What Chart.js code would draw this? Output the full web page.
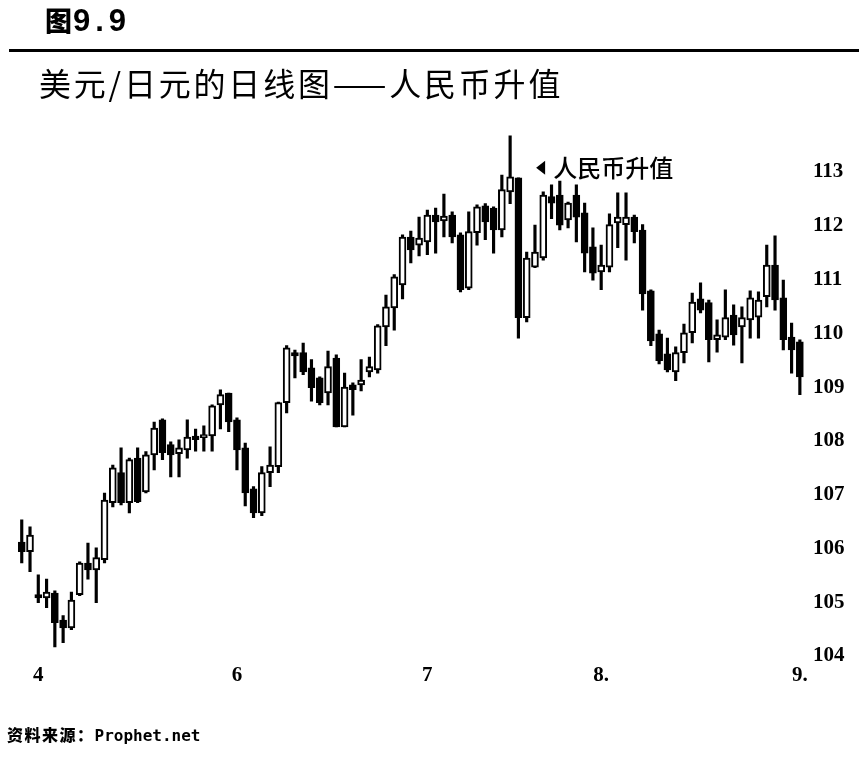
<!DOCTYPE html>
<html>
<head>
<meta charset="utf-8">
<script src="https://cdn.jsdelivr.net/npm/chart.js@4.4.1/dist/chart.umd.min.js"></script>
<style>
  html, body { margin: 0; padding: 0; background: #fff; }
  #page { position: relative; width: 859px; height: 764px; overflow: hidden; }
  #chart { position: absolute; left: 0; top: 0; }
  .fig { position: absolute; left: 45px; top: 0px; color: #000; white-space: nowrap; }
  .fig .zh { font: 900 27px "Noto Sans CJK SC"; }
  .fig .num { font: bold 31px "Liberation Sans"; letter-spacing: 5px; margin-left: 1px; }
  .rule { position: absolute; left: 9px; right: 0; top: 49px; height: 3px; background: #000; }
  .title { position: absolute; left: 39px; top: 59px; font: 32px "Noto Sans CJK SC"; letter-spacing: 2.8px; color: #000; white-space: nowrap; }
  .src { position: absolute; left: 7px; top: 722px; color: #000; white-space: nowrap; }
  .src .zh { font: 900 16px "Noto Sans CJK SC"; letter-spacing: 1.5px; }
  .src .en { font: bold 16px "DejaVu Sans Mono"; }
</style>
</head>
<body>
<div id="page">
  <canvas id="chart" width="859" height="764"></canvas>
  <div class="fig"><span class="zh">图</span><span class="num">9.9</span></div>
  <div class="rule"></div>
  <div class="title">美元/日元的日线图——人民币升值</div>
  <div class="src"><span class="zh">资料来源：</span><span class="en">Prophet.net</span></div>
</div>
<script>
// daily USD/JPY
const opens = [
  106.12, 105.94, 105.14, 105.08, 105.17, 104.67, 104.52, 105.14, 105.73, 105.60,
  105.79, 106.85, 107.41, 106.85, 107.68, 107.05, 107.74, 108.39, 107.93, 107.76,
  107.83, 108.09, 108.06, 108.09, 108.67, 108.89, 108.39, 107.87, 107.11, 106.66,
  107.41, 107.52, 108.71, 109.64, 109.64, 109.36, 109.17, 108.89, 109.54, 108.26,
  109.04, 109.04, 109.28, 109.32, 110.12, 110.47, 110.90, 111.79, 111.64, 111.70,
  112.20, 112.09, 112.20, 111.83, 110.84, 111.87, 112.37, 112.33, 111.92, 112.63,
  112.89, 110.29, 111.23, 111.40, 112.54, 112.57, 112.11, 112.57, 112.24, 111.61,
  111.14, 111.23, 112.05, 112.02, 112.16, 111.92, 110.79, 109.99, 109.62, 109.28,
  109.64, 110.01, 110.64, 110.57, 109.88, 109.93, 110.34, 110.12, 110.25, 110.30,
  110.68, 111.27, 110.66, 109.93, 109.84
];
const highs = [
  106.53, 106.40, 105.51, 105.43, 105.21, 104.75, 105.19, 105.75, 106.10, 106.01,
  107.03, 107.55, 107.87, 107.68, 107.87, 107.80, 108.35, 108.41, 107.98, 108.02,
  108.39, 108.22, 108.28, 108.67, 108.95, 108.89, 108.43, 107.96, 107.15, 107.52,
  107.89, 108.72, 109.77, 109.69, 109.82, 109.51, 109.19, 109.67, 109.60, 109.26,
  109.08, 109.51, 109.56, 110.16, 110.71, 111.09, 111.83, 111.90, 112.16, 112.29,
  112.33, 112.59, 112.26, 111.87, 112.26, 112.39, 112.41, 112.35, 112.94, 113.67,
  112.89, 111.51, 112.01, 112.63, 112.76, 112.83, 112.44, 112.76, 112.42, 111.96,
  111.64, 112.22, 112.61, 112.61, 112.20, 112.02, 110.81, 110.06, 109.91, 109.75,
  110.17, 110.75, 110.94, 110.62, 110.25, 110.81, 110.53, 110.49, 110.79, 110.77,
  111.64, 111.81, 110.99, 110.19, 109.88
];
const lows = [
  105.73, 105.57, 104.99, 104.90, 104.17, 104.25, 104.49, 105.12, 105.43, 104.99,
  105.73, 106.77, 106.81, 106.66, 106.85, 107.03, 107.46, 107.65, 107.33, 107.33,
  107.68, 107.81, 107.81, 107.81, 108.22, 108.17, 107.46, 106.79, 106.57, 106.61,
  107.15, 107.41, 108.52, 109.17, 109.23, 108.74, 108.67, 108.67, 108.26, 108.26,
  108.48, 108.93, 109.19, 109.26, 109.77, 110.06, 110.64, 111.31, 111.44, 111.46,
  111.49, 111.79, 111.68, 110.77, 110.81, 111.64, 111.74, 111.49, 111.79, 112.41,
  109.91, 110.21, 111.22, 111.36, 112.13, 111.92, 111.96, 111.70, 111.14, 110.99,
  110.81, 111.14, 111.59, 111.36, 111.68, 110.43, 109.77, 109.43, 109.28, 109.12,
  109.45, 109.82, 110.38, 109.47, 109.65, 109.88, 109.78, 109.45, 109.91, 109.91,
  110.49, 110.43, 109.69, 109.26, 108.86
];
const closes = [
  105.94, 106.25, 105.08, 105.19, 104.62, 104.52, 105.04, 105.73, 105.60, 105.83,
  106.90, 107.50, 106.85, 107.65, 106.87, 107.74, 108.24, 107.78, 107.74, 107.87,
  108.07, 108.02, 108.11, 108.65, 108.86, 108.35, 107.83, 107.03, 106.66, 107.41,
  107.55, 108.71, 109.73, 109.58, 109.28, 108.99, 108.71, 109.38, 108.26, 109.00,
  108.95, 109.13, 109.38, 110.14, 110.49, 111.05, 111.79, 111.55, 111.77, 112.20,
  112.07, 112.18, 111.79, 110.81, 111.89, 112.35, 112.07, 111.92, 112.67, 112.91,
  110.29, 111.40, 111.51, 112.57, 112.42, 112.01, 112.42, 112.16, 111.49, 111.12,
  111.27, 112.02, 112.16, 112.16, 111.89, 110.73, 109.86, 109.49, 109.32, 109.64,
  110.01, 110.58, 110.43, 109.88, 109.97, 110.29, 109.97, 110.29, 110.66, 110.62,
  111.27, 110.62, 109.88, 109.69, 109.19
];

// month labels sit under these candles
const monthAt = [2, 26, 49, 70, 94];
const monthText = ['4', '6', '7', '8.', '9.'];

const priceTicks = [104, 105, 106, 107, 108, 109, 110, 111, 112, 113];

const noteIndex = 59;
const noteValue = 113.08;
const noteText = '人民币升值';

const days = opens.map((o, i) => i + 1);

const tickFont = { family: '"Liberation Serif"', size: 21, weight: 'bold' };

const notePlugin = {
    id: 'note',
    afterDatasetsDraw(chart) {
        const ctx = chart.ctx;
        const x = chart.scales.x.getPixelForValue(noteIndex) + 26;
        const y = chart.scales.y.getPixelForValue(noteValue);
        ctx.save();
        ctx.fillStyle = '#000';
        ctx.beginPath();
        ctx.moveTo(x, y);
        ctx.lineTo(x + 9, y - 7);
        ctx.lineTo(x + 9, y + 7);
        ctx.closePath();
        ctx.fill();
        ctx.font = '500 24px "Noto Sans CJK SC"';
        ctx.textBaseline = 'middle';
        ctx.textAlign = 'left';
        ctx.fillText(noteText, x + 17, y);
        ctx.restore();
    }
};

new Chart(document.getElementById('chart').getContext('2d'), {
    type: 'bar',
    data: {
        labels: days,
        datasets: [
            {
                // candle bodies, drawn over the wicks
                data: opens.map((o, i) => [o, closes[i]]),
                backgroundColor: opens.map((o, i) => closes[i] >= o ? '#ffffff' : '#000000'),
                borderColor: '#000000',
                borderWidth: 2,
                borderSkipped: false,
                barThickness: 7,
                minBarLength: 3,
                grouped: false
            },
            {
                // high-low wicks
                data: lows.map((l, i) => [l, highs[i]]),
                backgroundColor: '#000000',
                borderWidth: 0,
                barThickness: 2.5,
                grouped: false
            }
        ]
    },
    options: {
        responsive: false,
        animation: false,
        layout: { padding: { left: 17.6, right: 0, top: 130, bottom: 68 } },
        plugins: { legend: { display: false }, tooltip: { enabled: false } },
        scales: {
            x: {
                offset: true,
                grid: { display: false, drawTicks: false },
                border: { display: false },
                afterFit(scale) { scale.height = 40; },
                ticks: {
                    autoSkip: false,
                    maxRotation: 0,
                    padding: 7,
                    color: '#000',
                    font: tickFont,
                    callback(value, index) {
                        const k = monthAt.indexOf(index);
                        return k >= 0 ? monthText[k] : '';
                    }
                }
            },
            y: {
                position: 'right',
                min: 104,
                max: 113.78,
                grid: { display: false, drawTicks: false },
                border: { display: false },
                afterFit(scale) { scale.width = 55; },
                afterBuildTicks(scale) { scale.ticks = priceTicks.map(v => ({ value: v })); },
                ticks: {
                    padding: 9,
                    color: '#000',
                    font: tickFont
                }
            }
        }
    },
    plugins: [notePlugin]
});
</script>
</body>
</html>
